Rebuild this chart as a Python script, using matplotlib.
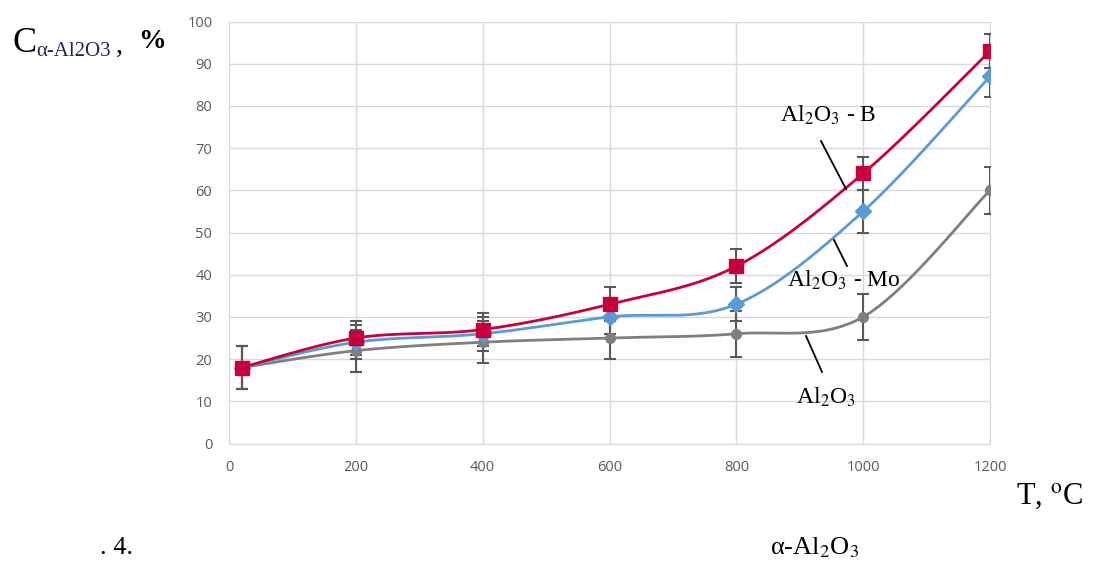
import numpy as np
import matplotlib
matplotlib.use("Agg")
import matplotlib.pyplot as plt

plt.rcParams['mathtext.fontset'] = 'stix'

temps = [20, 200, 400, 600, 800, 1000, 1200]
c_b = [18, 25, 27, 33, 42, 64, 93]
c_mo = [18, 24, 26, 30, 33, 55, 87]
c_pure = [18, 22, 24, 25, 26, 30, 60]
err_b = [5, 4, 4, 4, 4, 4, 4]
err_mo = [5, 4, 4, 4, 4, 5, 5]
err_pure = [5, 5, 5, 5, 5.5, 5.5, 5.5]
yticks = np.arange(0, 101, 10)
xticks = np.arange(0, 1201, 200)


def smooth(x, y, n=40):
    # Excel-like smoothed line (Bezier through points), computed in pixel-ish space
    sx, sy = 761 / 1200, 422 / 100
    p = np.column_stack([np.asarray(x, float) * sx, np.asarray(y, float) * sy])
    p = np.vstack([p[0], p, p[-1]])
    out = []
    t = np.linspace(0, 1, n)[:, None]
    for i in range(1, len(p) - 2):
        p0, p1, p2, p3 = p[i - 1], p[i], p[i + 1], p[i + 2]
        c1 = p1 + (p2 - p0) / 6
        c2 = p2 - (p3 - p1) / 6
        seg = (1 - t) ** 3 * p1 + 3 * (1 - t) ** 2 * t * c1 + 3 * (1 - t) * t ** 2 * c2 + t ** 3 * p2
        out.append(seg)
    out = np.vstack(out)
    return out[:, 0] / sx, out[:, 1] / sy


fig = plt.figure(figsize=(10.95, 5.63), dpi=100)
ax = fig.add_axes([229 / 1095, 1 - 443.5 / 563, 761 / 1095, 422 / 563])

series = [
    (c_pure, err_pure, "#7f7f7f", "o", 7),
    (c_mo, err_mo, "#5b9bd5", "D", 8),
    (c_b, err_b, "#c8003c", "s", 9.5),
]
for vals, err, col, mk, ms in series:
    xs, ys = smooth(temps, vals)
    ax.plot(xs, ys, color=col, lw=2, zorder=3)
    ax.errorbar(temps, vals, yerr=err, fmt="none", ecolor="#595959", elinewidth=1.5,
                capsize=4, capthick=1.5, zorder=4)
    ax.plot(temps, vals, ls="none", marker=mk, color=col, ms=ms, zorder=5)

ax.set_xlim(0, 1200)
ax.set_ylim(0, 100)
ax.set_xticks(xticks)
ax.set_yticks(yticks)
ax.grid(True, color="#d9d9d9", lw=1)
ax.set_axisbelow(True)
for s in ax.spines.values():
    s.set_color("#d9d9d9")
ax.tick_params(length=0, colors="#595959", labelsize=10.5, pad=12)
for lab in ax.get_xticklabels() + ax.get_yticklabels():
    lab.set_family("Open Sans")

serif = "Liberation Serif"
ax.text(780 / 1095, 1 - 115 / 563, r"Al$_2$O$_3$ - B", transform=fig.transFigure,
        fontsize=17, family=serif, va="center", ha="left")
ax.text(787 / 1095, 1 - 280 / 563, r"Al$_2$O$_3$ - Mo", transform=fig.transFigure,
        fontsize=17, family=serif, va="center", ha="left")
ax.text(796 / 1095, 1 - 397 / 563, r"Al$_2$O$_3$", transform=fig.transFigure,
        fontsize=17, family=serif, va="center", ha="left")
for (x0, y0), (x1, y1) in [((821, 141), (846, 189)), ((834, 240), (847, 266)), ((806, 336), (822, 372))]:
    fig.add_artist(plt.Line2D([x0 / 1095, x1 / 1095], [1 - y0 / 563, 1 - y1 / 563],
                              color="black", lw=1.3))

fig.text(12 / 1095, 1 - 44 / 563, "C", fontsize=26, family=serif, va="center", ha="left")
fig.text(36 / 1095, 1 - 51 / 563, "α-Al2O3", fontsize=15, family=serif, va="center", ha="left",
         color="#1f2a50")
fig.text(116 / 1095, 1 - 46 / 563, ",", fontsize=20, family=serif, va="center", ha="left")
fig.text(138 / 1095, 1 - 42 / 563, "%", fontsize=20, family=serif, weight="bold",
         va="center", ha="left")

fig.text(1016 / 1095, 1 - 496 / 563, "T, $^{\\mathrm{o}}$C", fontsize=22, family=serif,
         va="center", ha="left")
fig.text(100 / 1095, 1 - 548 / 563, ". 4.", fontsize=19, family=serif, va="center", ha="left")
fig.text(770 / 1095, 1 - 548 / 563, "α-Al$_2$O$_3$", fontsize=19, family=serif,
         va="center", ha="left")

fig.savefig("out.png", dpi=100)
